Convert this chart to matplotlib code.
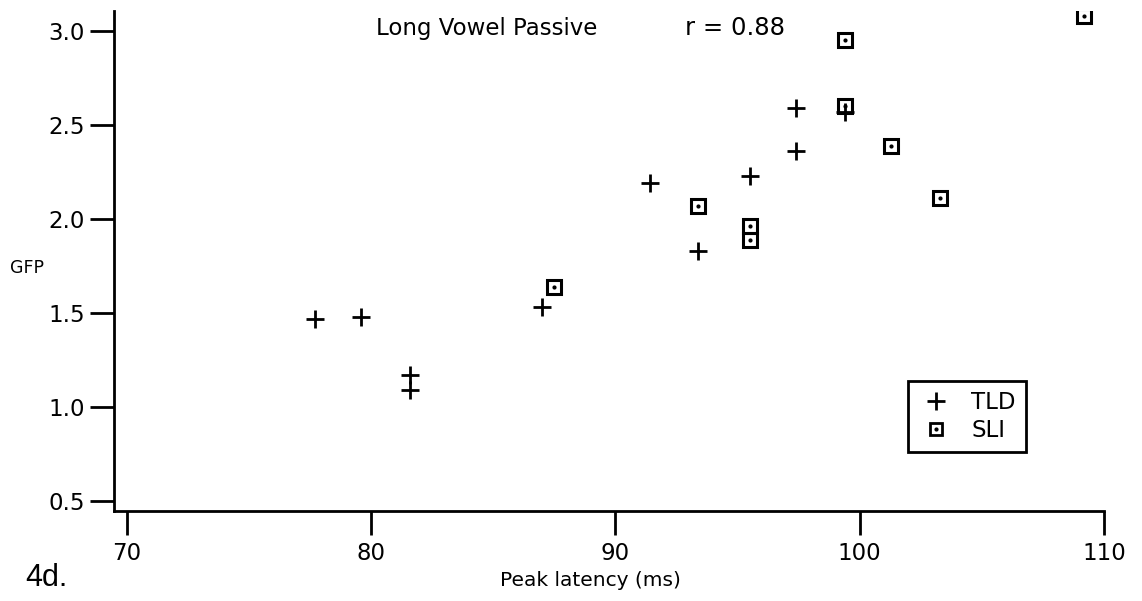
import matplotlib
matplotlib.use("Agg")
import matplotlib.pyplot as plt
from matplotlib.lines import Line2D

# peak latency (ms) and GFP for each group
tld_latency = [77.7, 79.6, 81.6, 81.6, 87.0, 91.4, 93.4, 95.5, 97.4, 97.4, 99.4]
tld_gfp = [1.47, 1.48, 1.17, 1.09, 1.53, 2.19, 1.83, 2.23, 2.59, 2.36, 2.57]

sli_latency = [87.5, 93.4, 95.5, 95.5, 99.4, 99.4, 101.3, 103.3, 109.2]
sli_gfp = [1.64, 2.07, 1.96, 1.89, 2.95, 2.60, 2.39, 2.11, 3.08]

x_ticks = [70, 80, 90, 100, 110]
y_ticks = [0.5, 1.0, 1.5, 2.0, 2.5, 3.0]
r_value = 0.88

plt.rcParams['font.family'] = ['DejaVu Sans']

fig = plt.figure(figsize=(11.42, 6.01), dpi=100)
ax = fig.add_axes([114 / 1142, 1 - 511 / 601, (1104 - 114) / 1142, (511 - 11) / 601])

ax.plot(tld_latency, tld_gfp, linestyle='none', marker='+', color='black',
        markersize=12.5, markeredgewidth=2)
ax.plot(sli_latency, sli_gfp, linestyle='none', marker='s', markerfacecolor='none',
        markeredgecolor='black', markersize=10.5, markeredgewidth=2.2)
ax.plot(sli_latency, sli_gfp, linestyle='none', marker='o', color='black',
        markersize=2)

ax.set_xlim(69.48, 110)
ax.set_ylim(0.447, 3.106)
ax.set_xticks(x_ticks)
ax.set_yticks(y_ticks)
ax.set_xticklabels([str(v) for v in x_ticks])
ax.set_yticklabels(['%.1f' % v for v in y_ticks])

for side in ['top', 'right']:
    ax.spines[side].set_visible(False)
for side in ['left', 'bottom']:
    ax.spines[side].set_linewidth(2)
ax.tick_params(axis='both', direction='out', length=17, width=2, labelsize=16.5,
               colors='black')
ax.tick_params(axis='x', pad=5)
ax.tick_params(axis='y', pad=4)

ax.text(0.265, 0.966, 'Long Vowel Passive', transform=ax.transAxes, fontsize=16.5,
        ha='left', va='center')
ax.text(0.577, 0.966, 'r = %.2f' % r_value, transform=ax.transAxes, fontsize=17.5,
        ha='left', va='center')

fig.text(27 / 1142, 1 - 268 / 601, 'GFP', fontsize=12.5, ha='center', va='center')
fig.text(590 / 1142, 1 - 581 / 601, 'Peak latency (ms)', fontsize=14.5,
         ha='center', va='center')
fig.text(25 / 1142, 1 - 578 / 601, '4d.', fontsize=22, family='Liberation Sans',
         ha='left', va='center')

tld_handle = Line2D([], [], linestyle='none', marker='+', color='black',
                    markersize=12.5, markeredgewidth=2)
sli_box = Line2D([], [], linestyle='none', marker='s', markerfacecolor='none',
                 markeredgecolor='black', markersize=9, markeredgewidth=2)
sli_dot = Line2D([], [], linestyle='none', marker='o', color='black', markersize=2)
leg = ax.legend([tld_handle, (sli_box, sli_dot)], ['TLD', 'SLI'],
                loc='upper left', bbox_to_anchor=(908 / 1142, 1 - 381 / 601),
                bbox_transform=fig.transFigure, frameon=True, fancybox=False,
                edgecolor='black', framealpha=1, fontsize=16.5, handlelength=1.5,
                handletextpad=0.8, borderpad=0.45, labelspacing=0.2,
                borderaxespad=0)
leg.get_frame().set_linewidth(2)

fig.savefig('out.png', dpi=100)
